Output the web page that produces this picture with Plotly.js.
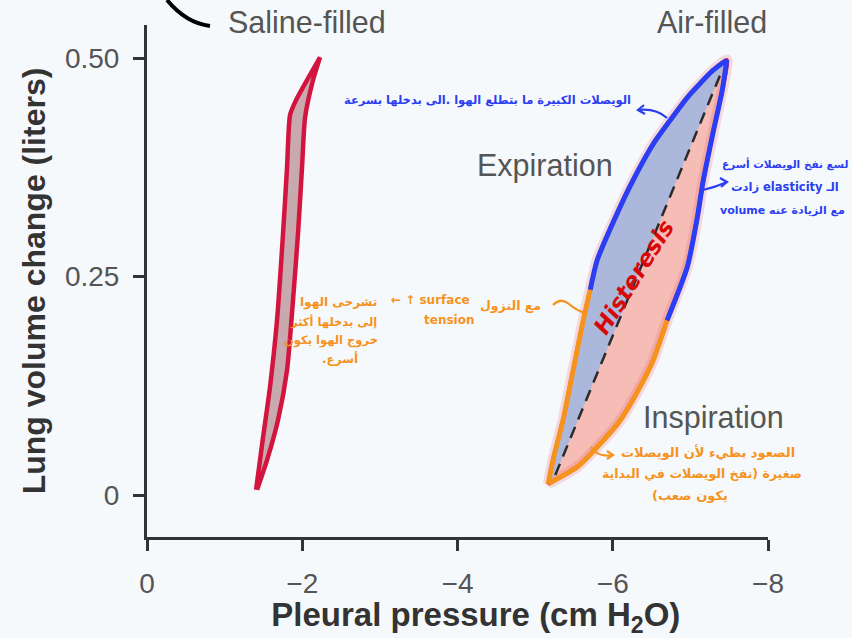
<!DOCTYPE html>
<html>
<head>
<meta charset="utf-8">
<script src="https://cdn.plot.ly/plotly-3.0.1.min.js"></script>
<style>html,body{margin:0;padding:0;background:#f6f9fc;}#chart{width:852px;height:638px;}</style>
</head>
<body>
<div id="chart"></div>
<script>
// ---- Data ----
// Saline-filled loop: rising branch (bottom -> top) then falling branch (top -> bottom)
const salineUpX = [-1.405, -1.495, -1.585, -1.675, -1.753, -1.804, -1.843, -1.920, -2.229];
const salineUpY = [0.006, 0.066, 0.124, 0.200, 0.300, 0.375, 0.435, 0.452, 0.501];
const salineDownX = [-2.229, -2.139, -2.036, -1.997, -1.946, -1.881, -1.804, -1.688, -1.546, -1.418];
const salineDownY = [0.501, 0.475, 0.432, 0.375, 0.300, 0.223, 0.143, 0.086, 0.040, 0.006];

// Air-filled loop: expiration branch (top -> bottom), inspiration branch (bottom -> top)
const expX = [-7.47, -7.29, -6.96, -6.74, -6.53, -6.26, -6.06, -5.80, -5.71, -5.62, -5.49, -5.36, -5.23, -5.17];
const expY = [0.498, 0.486, 0.455, 0.429, 0.403, 0.360, 0.323, 0.269, 0.235, 0.200, 0.143, 0.086, 0.040, 0.013];
const inspX = [-5.17, -5.54, -5.80, -6.10, -6.31, -6.52, -6.70, -6.96, -7.09, -7.16, -7.29, -7.41, -7.47];
const inspY = [0.013, 0.032, 0.055, 0.086, 0.117, 0.154, 0.200, 0.261, 0.318, 0.357, 0.414, 0.463, 0.498];
// highlighted segments: where the hand-drawn blue stroke turns orange
const expSplit = 8;   // index in exp arrays
const inspSplit = 6;  // index in insp arrays

// dashed diagonal
const diagX = [-5.26, -7.38];
const diagY = [0.023, 0.480];

// ticks
const xTickVals = [0, -2, -4, -6, -8];
const xTickText = ['0', '\u22122', '\u22124', '\u22126', '\u22128'];
const yTickVals = [0, 0.25, 0.5];
const yTickText = ['0', '0.25', '0.50'];

// ---- Build ----
const red = '#d3143f';
const blue = '#2b3ef2';
const orange = '#f5931e';
const L = 147, T = 25, W = 621, H = 512;
function P(px, py) { return { x: (px - L) / W, y: (T + H - py) / H }; }

const traces = [];
// saline loop
traces.push({
  x: salineUpX.concat(salineDownX), y: salineUpY.concat(salineDownY),
  mode: 'lines', fill: 'toself', fillcolor: '#c7a9ae',
  line: { color: red, width: 4.5, shape: 'spline', smoothing: 0.6 },
  hoverinfo: 'skip', showlegend: false
});
// air loop glow + pink fill
const loopX = expX.concat(inspX), loopY = expY.concat(inspY);
traces.push({
  x: loopX, y: loopY, mode: 'lines', fill: 'toself', fillcolor: '#f5bdb5',
  line: { color: 'rgba(232,70,90,0.18)', width: 11, shape: 'spline', smoothing: 0.6 },
  hoverinfo: 'skip', showlegend: false
});
traces.push({
  x: loopX, y: loopY, mode: 'lines',
  line: { color: red, width: 4, shape: 'spline', smoothing: 0.6 },
  hoverinfo: 'skip', showlegend: false
});
// blue (expiration side) fill between expiration branch and diagonal
traces.push({
  x: expX.concat([diagX[0], diagX[1]]), y: expY.concat([diagY[0], diagY[1]]),
  mode: 'lines', fill: 'toself', fillcolor: '#abb8dc',
  line: { width: 0, color: 'rgba(0,0,0,0)' },
  hoverinfo: 'skip', showlegend: false
});
// dashed diagonal
traces.push({
  x: diagX, y: diagY, mode: 'lines',
  line: { color: '#2b2b2b', width: 2.5, dash: '12px,8px' },
  hoverinfo: 'skip', showlegend: false
});
// hand-drawn highlight strokes
traces.push({ x: expX.slice(0, expSplit + 1), y: expY.slice(0, expSplit + 1), mode: 'lines',
  line: { color: blue, width: 5, shape: 'spline', smoothing: 0.6 }, hoverinfo: 'skip', showlegend: false });
traces.push({ x: expX.slice(expSplit), y: expY.slice(expSplit), mode: 'lines',
  line: { color: orange, width: 5, shape: 'spline', smoothing: 0.6 }, hoverinfo: 'skip', showlegend: false });
traces.push({ x: inspX.slice(0, inspSplit + 1), y: inspY.slice(0, inspSplit + 1), mode: 'lines',
  line: { color: orange, width: 5, shape: 'spline', smoothing: 0.6 }, hoverinfo: 'skip', showlegend: false });
traces.push({ x: inspX.slice(inspSplit), y: inspY.slice(inspSplit), mode: 'lines',
  line: { color: blue, width: 5, shape: 'spline', smoothing: 0.6 }, hoverinfo: 'skip', showlegend: false });

const labelFont = { family: 'Liberation Sans, Arial, sans-serif', size: 30.5, color: '#555' };
const arFont = (c, s) => ({ family: 'DejaVu Sans, Noto Sans, sans-serif', size: s, color: c, weight: 'bold' });
const RLE = '\u202B', PDF = '\u202C';
function ar(t) { return RLE + t + PDF; }
function ann(px, py, text, font, extra) {
  const p = P(px, py);
  return Object.assign({ xref: 'paper', yref: 'paper', x: p.x, y: p.y, text: text, font: font,
    showarrow: false, xanchor: 'center', yanchor: 'middle' }, extra || {});
}

const annotations = [
  ann(307, 22, 'Saline-filled', labelFont),
  ann(712, 22, 'Air-filled', labelFont),
  ann(545, 165, 'Expiration', labelFont),
  ann(713, 417, 'Inspiration', labelFont),
  // blue notes
  ann(487, 100, ar('الويصلات الكبيرة ما بتطلع الهوا .الى بدخلها بسرعة'), arFont(blue, 11.5)),
  ann(785, 164, ar('لسع نفخ الويصلات أسرع'), arFont(blue, 10.5)),
  ann(785, 187, ar('الـ elasticity زادت'), arFont(blue, 11.5)),
  ann(782, 210, ar('مع الزيادة عنه volume'), arFont(blue, 11)),
  // orange notes (left)
  ann(338, 302, ar('تشرحى الهوا'), arFont(orange, 12)),
  ann(333, 321, ar('إلى بدخلها أكثر'), arFont(orange, 11.5)),
  ann(331, 340, ar('خروج الهوا يكون'), arFont(orange, 11.5)),
  ann(340, 358, ar('أسرع.'), arFont(orange, 12)),
  ann(430, 300, '\u2190 \u2191 surface', arFont(orange, 12)),
  ann(449, 320, 'tension', arFont(orange, 12)),
  ann(510, 305, ar('مع النزول'), arFont(orange, 12.5)),
  // orange notes (bottom right)
  ann(708, 452, ar('الصعود بطيء لأن الويصلات'), arFont(orange, 13)),
  ann(702, 473, ar('صغيرة (نفخ الويصلات في البداية'), arFont(orange, 12.5)),
  ann(690, 495, ar('يكون صعب)'), arFont(orange, 13)),
  // red note
  ann(634, 277, '<i>Histeresis</i>', { family: 'DejaVu Sans, sans-serif', size: 23, color: '#d90808', weight: 'bold' }, { textangle: -58 })
];

// hand-drawn strokes (pixel paths converted to paper coordinates)
function pathFrom(cmds) {
  return cmds.map(c => {
    if (typeof c === 'string') return c;
    const p = P(c[0], c[1]);
    return p.x.toFixed(5) + ',' + p.y.toFixed(5);
  }).join(' ');
}
function stroke(cmds, color, width) {
  return { type: 'path', xref: 'paper', yref: 'paper', path: pathFrom(cmds), line: { color: color, width: width } };
}
const shapes = [
  stroke(['M', [167, 0], 'Q', [186, 23], [210, 26]], '#000', 4),
  // blue arrow to upper note
  stroke(['M', [667, 118], 'Q', [656, 108], [638, 110]], blue, 2.2),
  stroke(['M', [644, 105], 'L', [638, 110], 'L', [645, 114]], blue, 2.2),
  // blue arrow to right note
  stroke(['M', [703, 190], 'Q', [716, 187], [727, 182]], blue, 2.2),
  stroke(['M', [720, 178], 'L', [727, 182], 'L', [721, 187]], blue, 2.2),
  // orange squiggle to the descending branch
  stroke(['M', [553, 305], 'Q', [561, 297], [569, 304], 'T', [586, 313]], orange, 2.2),
  // orange arrow to the lower note
  stroke(['M', [591, 447], 'Q', [598, 458], [613, 455]], orange, 2.2),
  stroke(['M', [607, 451], 'L', [613, 455], 'L', [607, 459]], orange, 2.2)
];

const layout = {
  width: 852, height: 638,
  margin: { l: L, r: 852 - L - W, t: T, b: 638 - T - H },
  paper_bgcolor: '#f6f9fc', plot_bgcolor: '#f6f9fc',
  showlegend: false,
  font: { family: 'Liberation Sans, Arial, sans-serif', color: '#555' },
  xaxis: {
    range: [0, -8], showgrid: false, zeroline: false,
    showline: true, linecolor: '#333', linewidth: 3,
    ticks: 'outside', ticklen: 11, tickwidth: 3, tickcolor: '#333',
    tickvals: xTickVals, ticktext: xTickText, ticklabelstandoff: 8,
    tickfont: { size: 28, color: '#555' },
    title: { text: '&nbsp;&nbsp;&nbsp;&nbsp;<b>Pleural pressure (cm H<sub>2</sub>O)</b>', font: { size: 33, color: '#333' }, standoff: 12 }
  },
  yaxis: {
    range: [-0.048, 0.538], showgrid: false, zeroline: false,
    showline: true, linecolor: '#333', linewidth: 3,
    ticks: 'outside', ticklen: 11, tickwidth: 3, tickcolor: '#333',
    tickvals: yTickVals, ticktext: yTickText, ticklabelstandoff: 8,
    tickfont: { size: 28, color: '#555' },
    title: { text: '<b>Lung volume change (liters)</b>', font: { size: 32, color: '#333' }, standoff: 10 }
  },
  annotations: annotations,
  shapes: shapes
};

Plotly.newPlot('chart', traces, layout, { displayModeBar: false, staticPlot: true });
</script>
</body>
</html>
